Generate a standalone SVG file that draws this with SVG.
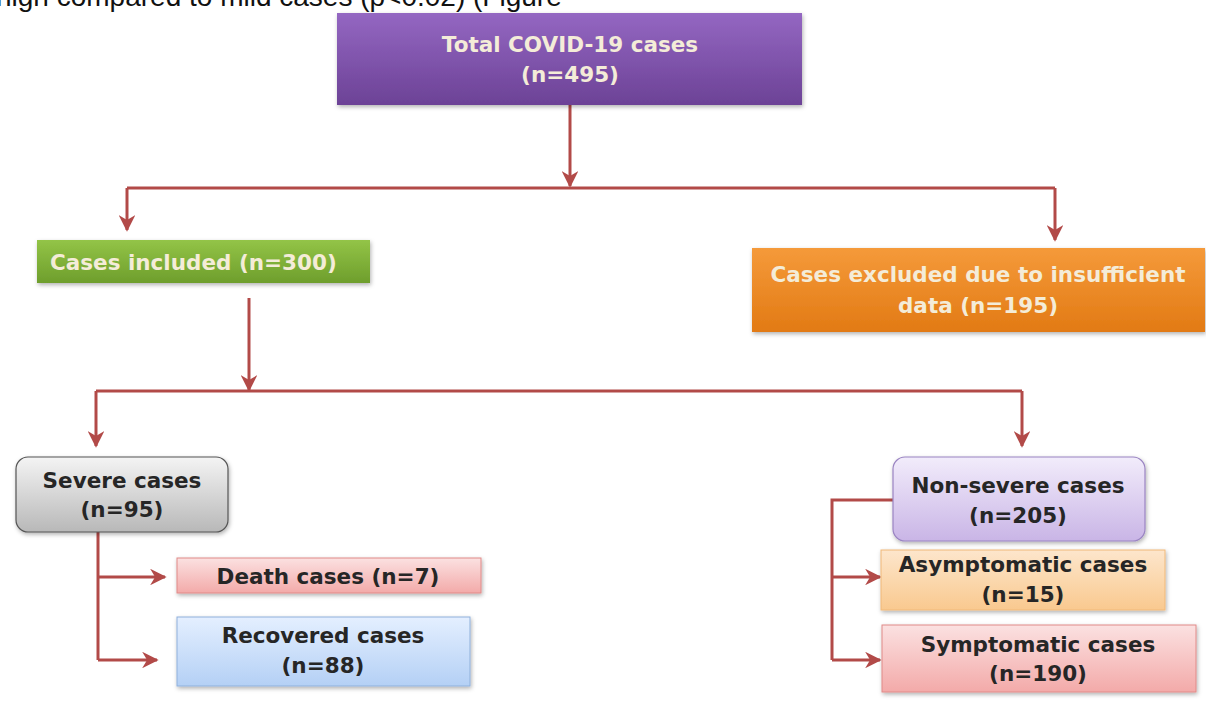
<svg xmlns="http://www.w3.org/2000/svg" width="1206" height="704" viewBox="0 0 1206 704">
<defs>
  <linearGradient id="gPurple" x1="0" y1="0" x2="0" y2="1">
    <stop offset="0" stop-color="#9467c2"/>
    <stop offset="1" stop-color="#6c4296"/>
  </linearGradient>
  <linearGradient id="gGreen" x1="0" y1="0" x2="0" y2="1">
    <stop offset="0" stop-color="#93c447"/>
    <stop offset="1" stop-color="#6e9e2c"/>
  </linearGradient>
  <linearGradient id="gOrange" x1="0" y1="0" x2="0" y2="1">
    <stop offset="0" stop-color="#f59a3a"/>
    <stop offset="1" stop-color="#e27a14"/>
  </linearGradient>
  <linearGradient id="gGray" x1="0" y1="0" x2="0" y2="1">
    <stop offset="0" stop-color="#f4f4f4"/>
    <stop offset="1" stop-color="#b8b8b8"/>
  </linearGradient>
  <linearGradient id="gPink" x1="0" y1="0" x2="0" y2="1">
    <stop offset="0" stop-color="#fbe1e1"/>
    <stop offset="1" stop-color="#f3aaa9"/>
  </linearGradient>
  <linearGradient id="gBlue" x1="0" y1="0" x2="0" y2="1">
    <stop offset="0" stop-color="#e4efff"/>
    <stop offset="1" stop-color="#b4d0f5"/>
  </linearGradient>
  <linearGradient id="gLav" x1="0" y1="0" x2="0" y2="1">
    <stop offset="0" stop-color="#f2ecfb"/>
    <stop offset="1" stop-color="#c9b5e6"/>
  </linearGradient>
  <linearGradient id="gPeach" x1="0" y1="0" x2="0" y2="1">
    <stop offset="0" stop-color="#fde6cc"/>
    <stop offset="1" stop-color="#f9c98f"/>
  </linearGradient>
  <filter id="sh" x="-10%" y="-20%" width="120%" height="150%">
    <feDropShadow dx="1" dy="2" stdDeviation="2" flood-color="#000" flood-opacity="0.3"/>
  </filter>
  <marker id="arr" viewBox="0 0 10 10" refX="9" refY="5" markerWidth="5.5" markerHeight="5.5" orient="auto" markerUnits="strokeWidth">
    <path d="M0,0 L10,5 L0,10 L3,5 Z" fill="#b24a48"/>
  </marker>
  <style>
    .lbl { font-family: "DejaVu Sans", Verdana, sans-serif; font-weight: bold; font-size: 21.5px; text-anchor: middle; }
    .light { fill: #f4ecd8; }
    .dark { fill: #262626; }
    .conn { fill: none; stroke: #b24a48; stroke-width: 3; }
    .arrow { marker-end: url(#arr); }
  </style>
</defs>
<rect width="1206" height="704" fill="#ffffff"/>
<text x="-4" y="6" font-family="'Liberation Sans', Arial, sans-serif" font-size="28" fill="#111">high compared to mild cases (p&lt;0.02) (Figure</text>

<g id="connectors">
  <path class="conn arrow" d="M570,105 V186"/>
  <path class="conn" d="M127,188 H1055"/>
  <path class="conn arrow" d="M127,188 V230"/>
  <path class="conn arrow" d="M1055,188 V240"/>
  <path class="conn arrow" d="M249,298 V390"/>
  <path class="conn" d="M96,391 H1022"/>
  <path class="conn arrow" d="M96,391 V446"/>
  <path class="conn arrow" d="M1022,391 V446"/>
  <path class="conn" d="M98,532 V660"/>
  <path class="conn arrow" d="M98,577 H165"/>
  <path class="conn arrow" d="M98,660 H157"/>
  <path class="conn" d="M893,500 H832 V660"/>
  <path class="conn arrow" d="M832,577 H880"/>
  <path class="conn arrow" d="M832,660 H880"/>
</g>

<g id="total">
  <rect x="337" y="13" width="465" height="92" fill="url(#gPurple)" filter="url(#sh)"/>
  <text class="lbl light" x="570" y="52">Total COVID-19 cases</text>
  <text class="lbl light" x="570" y="82">(n=495)</text>
</g>
<g id="included">
  <rect x="37" y="240" width="333" height="43" fill="url(#gGreen)" filter="url(#sh)"/>
  <text class="lbl light" x="50" y="270" style="text-anchor:start">Cases included (n=300)</text>
</g>
<g id="excluded">
  <rect x="752" y="248" width="453" height="84" fill="url(#gOrange)" filter="url(#sh)"/>
  <text class="lbl light" x="978" y="282">Cases excluded due to insufficient</text>
  <text class="lbl light" x="978" y="313">data (n=195)</text>
</g>
<g id="severe">
  <rect x="16" y="457" width="212" height="75" rx="12" fill="url(#gGray)" stroke="#555" stroke-width="1.2" filter="url(#sh)"/>
  <text class="lbl dark" x="122" y="488">Severe cases</text>
  <text class="lbl dark" x="122" y="517">(n=95)</text>
</g>
<g id="death">
  <rect x="177" y="558" width="304" height="35" fill="url(#gPink)" stroke="#e08a88" stroke-width="1" filter="url(#sh)"/>
  <text class="lbl dark" x="328" y="584">Death cases (n=7)</text>
</g>
<g id="recovered">
  <rect x="177" y="617" width="293" height="69" fill="url(#gBlue)" stroke="#8fb0db" stroke-width="1" filter="url(#sh)"/>
  <text class="lbl dark" x="323" y="643">Recovered cases</text>
  <text class="lbl dark" x="323" y="673">(n=88)</text>
</g>
<g id="nonsevere">
  <rect x="893" y="457" width="252" height="84" rx="12" fill="url(#gLav)" stroke="#9a84c2" stroke-width="1.2" filter="url(#sh)"/>
  <text class="lbl dark" x="1018" y="493">Non-severe cases</text>
  <text class="lbl dark" x="1018" y="523">(n=205)</text>
</g>
<g id="asymptomatic">
  <rect x="881" y="550" width="284" height="60" fill="url(#gPeach)" stroke="#f0b878" stroke-width="1" filter="url(#sh)"/>
  <text class="lbl dark" x="1023" y="572">Asymptomatic cases</text>
  <text class="lbl dark" x="1023" y="602">(n=15)</text>
</g>
<g id="symptomatic">
  <rect x="882" y="625" width="314" height="67" fill="url(#gPink)" stroke="#e08a88" stroke-width="1" filter="url(#sh)"/>
  <text class="lbl dark" x="1038" y="652">Symptomatic cases</text>
  <text class="lbl dark" x="1038" y="681">(n=190)</text>
</g>
</svg>
